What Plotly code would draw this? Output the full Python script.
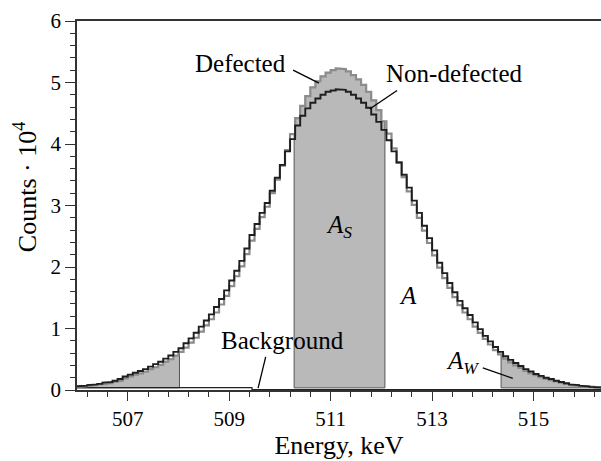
import numpy as np
import plotly.graph_objects as go

# ---------------- data ----------------
bin_start = 506.0   # keV, left edge of the first channel
bin_width = 0.1     # keV per channel

# counts (x10^4) per channel
non_defected = [
    0.06, 0.07, 0.08, 0.09, 0.10, 0.12, 0.13, 0.15, 0.18, 0.22,
    0.25, 0.28, 0.31, 0.34, 0.38, 0.42, 0.46, 0.51, 0.56, 0.62,
    0.68, 0.76, 0.84, 0.93, 1.03, 1.13, 1.23, 1.35, 1.48, 1.62,
    1.78, 1.94, 2.10, 2.30, 2.52, 2.70, 2.88, 3.04, 3.24, 3.45,
    3.66, 3.88, 4.08, 4.30, 4.46, 4.58, 4.67, 4.74, 4.80, 4.85,
    4.87, 4.89, 4.88, 4.85, 4.80, 4.74, 4.67, 4.59, 4.48, 4.36,
    4.23, 4.06, 3.88, 3.70, 3.50, 3.29, 3.08, 2.88, 2.67, 2.47,
    2.27, 2.07, 1.90, 1.74, 1.59, 1.45, 1.33, 1.22, 1.10, 0.99,
    0.88, 0.79, 0.70, 0.62, 0.55, 0.49, 0.44, 0.39, 0.34, 0.30,
    0.26, 0.23, 0.20, 0.18, 0.15, 0.13, 0.11, 0.09, 0.08, 0.07,
    0.06, 0.05, 0.05, 0.04,
]
defected = [
    0.05, 0.06, 0.07, 0.08, 0.09, 0.10, 0.11, 0.13, 0.15, 0.19,
    0.22, 0.25, 0.27, 0.30, 0.34, 0.37, 0.41, 0.46, 0.50, 0.56,
    0.62, 0.69, 0.77, 0.85, 0.95, 1.05, 1.15, 1.26, 1.39, 1.53,
    1.69, 1.85, 2.01, 2.21, 2.43, 2.62, 2.81, 2.98, 3.20, 3.42,
    3.65, 3.90, 4.16, 4.42, 4.62, 4.78, 4.92, 5.02, 5.10, 5.16,
    5.20, 5.23, 5.22, 5.18, 5.12, 5.05, 4.96, 4.85, 4.71, 4.55,
    4.37, 4.17, 3.93, 3.70, 3.46, 3.23, 3.01, 2.80, 2.59, 2.39,
    2.19, 1.99, 1.82, 1.66, 1.51, 1.38, 1.26, 1.15, 1.03, 0.93,
    0.83, 0.74, 0.65, 0.58, 0.51, 0.45, 0.40, 0.36, 0.31, 0.27,
    0.24, 0.21, 0.18, 0.16, 0.14, 0.12, 0.10, 0.08, 0.07, 0.06,
    0.05, 0.05, 0.04, 0.04,
]
# shaded windows (keV): left wing, S window, right wing
window_starts = [506.0, 510.28, 514.36]
window_ends = [508.02, 512.07, 516.4]
# background step
bg_edges = [506.0, 509.45, 516.4]
bg_values = [0.04, 0.008]
fill_base = 0.035

x_ticks = [507, 509, 511, 513, 515]
y_ticks = [0, 1, 2, 3, 4, 5, 6]

# ---------------- helpers ----------------
edges = bin_start + bin_width * np.arange(len(defected) + 1)


def step_xy(e, v):
    xs, ys = [], []
    for i, val in enumerate(v):
        xs += [e[i], e[i + 1]]
        ys += [val, val]
    return xs, ys


def window_poly(a, b, e, v, base):
    xs, ys = [a], [base]
    for i, val in enumerate(v):
        l, r = e[i], e[i + 1]
        if r <= a or l >= b:
            continue
        xs += [max(l, a), min(r, b)]
        ys += [val, val]
    xs += [b, a]
    ys += [base, base]
    return xs, ys


FONT = "Liberation Serif"
fig = go.Figure()

for a, b in zip(window_starts, window_ends):
    px, py = window_poly(a, b, edges, defected, fill_base)
    fig.add_trace(go.Scatter(x=px, y=py, mode="lines", fill="toself",
                             fillcolor="#b9b9b9",
                             line=dict(color="#555555", width=1),
                             hoverinfo="skip", showlegend=False))

bx, by = step_xy(bg_edges, bg_values)
fig.add_trace(go.Scatter(x=bx, y=by, mode="lines",
                         line=dict(color="#222222", width=1.2),
                         showlegend=False))

dx, dy = step_xy(edges, defected)
fig.add_trace(go.Scatter(x=dx, y=dy, mode="lines",
                         line=dict(color="#8c8c8c", width=2.2),
                         name="Defected", showlegend=False))
nx, ny = step_xy(edges, non_defected)
fig.add_trace(go.Scatter(x=nx, y=ny, mode="lines",
                         line=dict(color="#1e1e1e", width=1.9),
                         name="Non-defected", showlegend=False))

# labels
labels = [
    ("Defected", 509.23, 5.31, 25),
    ("Non-defected", 513.45, 5.15, 25),
    ("Background", 510.06, 0.81, 25),
    ("<i>A</i><sub><i>S</i></sub>", 511.16, 2.66, 25),
    ("<i>A</i>", 512.52, 1.53, 25),
    ("<i>A</i><sub><i>W</i></sub>", 513.6, 0.44, 25),
]
for t, x, y, s in labels:
    fig.add_annotation(x=x, y=y, text=t, showarrow=False,
                       font=dict(family=FONT, size=s, color="black"))

# y-axis title placed as a rotated label
fig.add_annotation(xref="paper", yref="paper", x=-0.099, y=0.55,
                   xanchor="center", yanchor="middle", textangle=-90,
                   text="Counts · 10<sup>4</sup>", showarrow=False,
                   font=dict(family=FONT, size=26, color="black"))

leaders = [
    (510.26, 5.20, 510.77, 4.99),
    (512.31, 4.87, 511.77, 4.57),
    (509.72, 0.54, 509.57, 0.03),
    (514.0, 0.36, 514.59, 0.19),
]
for x0, y0, x1, y1 in leaders:
    fig.add_shape(type="line", x0=x0, y0=y0, x1=x1, y1=y1,
                  line=dict(color="black", width=1.3))

fig.update_layout(
    width=601, height=461,
    margin=dict(l=77, r=0, t=21, b=71),
    paper_bgcolor="white", plot_bgcolor="white",
    font=dict(family=FONT, size=21, color="black"),
    showlegend=False,
)
fig.update_xaxes(
    range=[506.0, 516.33], tickmode="array", tickvals=x_ticks,
    ticks="outside", ticklen=9, tickwidth=1.3, tickcolor="#333333",
    showline=True, linecolor="#333333", linewidth=1.6, mirror=True,
    showgrid=False, zeroline=False,
    tickfont=dict(family=FONT, size=21),
    minor=dict(tick0=507, dtick=0.4, ticks="outside", ticklen=5,
               tickwidth=1.2, tickcolor="#333333", showgrid=False),
    title=dict(text="Energy, keV", font=dict(family=FONT, size=26), standoff=2),
)
fig.update_yaxes(
    range=[0, 6], tickmode="array", tickvals=y_ticks,
    ticks="outside", ticklen=10, tickwidth=1.3, tickcolor="#333333",
    showline=True, linecolor="#333333", linewidth=1.6, mirror=False,
    showgrid=False, zeroline=False,
    tickfont=dict(family=FONT, size=21),
    minor=dict(tick0=0, dtick=0.2, ticks="outside", ticklen=5,
               tickwidth=1.2, tickcolor="#333333", showgrid=False),
)

fig.write_html("out.html", config={"displayModeBar": False},
               post_script="document.body.style.margin='0';document.body.style.overflow='hidden';")
